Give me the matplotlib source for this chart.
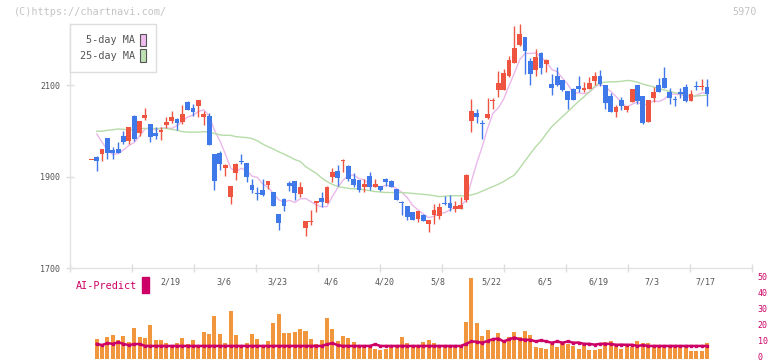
import numpy as np
import matplotlib
matplotlib.use("Agg")
import matplotlib.pyplot as plt
from matplotlib.patches import Patch, Rectangle

# ---- data ----
# first entry is the small red mark before the first traded day
opens = [1935,
         1943, 1949, 1984, 1958, 1960, 1988, 1978, 2032, 1996, 2028,
         2015, 1995, 1998, 2013, 2022, 2026, 2020, 2063, 2050, 2055,
         2029, 2032, 1949, 1952, 1919, 1856, 1908, 1932, 1929, 1881,
         1862, 1870, 1881, 1867, 1818, 1851, 1886, 1890, 1862, 1788,
         1800, 1841, 1852, 1841, 1899, 1912, 1933, 1923, 1894, 1892,
         1877, 1901, 1877, 1879, 1894, 1890, 1873, 1845, 1835, 1822,
         1807, 1816, 1796, 1816, 1814, 1841, 1842, 1829, 1829, 1849,
         2022, 2039, 2015, 2028, 2065, 2089, 2089, 2120, 2148, 2187,
         2205, 2152, 2133, 2170, 2146, 2102, 2120, 2111, 2087, 2091,
         2098, 2089, 2091, 2109, 2120, 2100, 2076, 2041, 2067, 2045,
         2063, 2100, 2076, 2019, 2072, 2100, 2115, 2085, 2068, 2085,
         2096, 2065, 2096, 2095, 2096]
highs = [1935,
         1945, 1960, 1984, 1965, 1976, 2000, 2008, 2034, 2022, 2050,
         2015, 2008, 2008, 2030, 2043, 2028, 2056, 2065, 2058, 2067,
         2043, 2039, 1949, 1956, 1928, 1879, 1930, 1949, 1930, 1894,
         1877, 1894, 1890, 1867, 1818, 1853, 1890, 1890, 1888, 1803,
         1827, 1846, 1866, 1879, 1919, 1925, 1938, 1925, 1908, 1892,
         1894, 1910, 1894, 1880, 1897, 1892, 1873, 1847, 1836, 1822,
         1825, 1818, 1805, 1840, 1842, 1857, 1860, 1846, 1855, 1905,
         2069, 2048, 2023, 2072, 2072, 2131, 2135, 2163, 2229, 2233,
         2205, 2159, 2179, 2172, 2157, 2124, 2139, 2111, 2087, 2093,
         2120, 2107, 2117, 2128, 2133, 2100, 2083, 2056, 2074, 2054,
         2091, 2100, 2076, 2067, 2096, 2115, 2139, 2093, 2076, 2093,
         2102, 2089, 2109, 2113, 2113]
lows = [1935,
        1913, 1934, 1939, 1939, 1952, 1972, 1970, 1977, 1988, 2023,
        1976, 1982, 1980, 2005, 2018, 2002, 2015, 2045, 2033, 2031,
        2013, 1969, 1870, 1914, 1901, 1840, 1892, 1927, 1889, 1865,
        1849, 1857, 1873, 1835, 1783, 1825, 1868, 1849, 1856, 1770,
        1793, 1823, 1833, 1841, 1888, 1879, 1910, 1890, 1877, 1866,
        1866, 1870, 1877, 1868, 1879, 1877, 1849, 1816, 1805, 1805,
        1800, 1803, 1779, 1796, 1807, 1838, 1825, 1822, 1829, 1844,
        1997, 2017, 1982, 2026, 2048, 2074, 2089, 2117, 2147, 2185,
        2124, 2100, 2120, 2124, 2128, 2078, 2098, 2087, 2048, 2067,
        2085, 2085, 2091, 2100, 2098, 2048, 2041, 2030, 2045, 2041,
        2063, 2058, 2015, 2019, 2063, 2085, 2093, 2058, 2054, 2072,
        2063, 2065, 2089, 2089, 2054]
closes = [1935,
          1934, 1960, 1952, 1952, 1952, 1975, 2008, 1982, 2021, 2034,
          1987, 1988, 2002, 2019, 2030, 2018, 2037, 2046, 2041, 2067,
          2037, 1969, 1891, 1928, 1926, 1879, 1927, 1931, 1900, 1870,
          1861, 1860, 1890, 1835, 1799, 1835, 1879, 1865, 1876, 1803,
          1801, 1846, 1844, 1877, 1910, 1897, 1934, 1894, 1881, 1870,
          1884, 1877, 1884, 1870, 1888, 1877, 1849, 1843, 1812, 1805,
          1825, 1803, 1805, 1827, 1833, 1839, 1831, 1835, 1838, 1903,
          2043, 2029, 2014, 2037, 2066, 2104, 2126, 2155, 2181, 2211,
          2174, 2124, 2161, 2137, 2155, 2093, 2100, 2089, 2067, 2067,
          2091, 2093, 2104, 2120, 2102, 2061, 2041, 2052, 2054, 2054,
          2091, 2065, 2017, 2067, 2085, 2085, 2093, 2072, 2067, 2080,
          2065, 2080, 2095, 2096, 2080]

ma5 = [1993, 1975, 1958, 1948, 1950, 1958, 1968, 1974, 1988, 2004,
       2006, 2002, 2006, 2006, 2005, 2011, 2021, 2030, 2034, 2042,
       2046, 2032, 2001, 1978, 1950, 1919, 1910, 1918, 1913, 1901,
       1898, 1884, 1876, 1863, 1849, 1844, 1848, 1843, 1851, 1852,
       1845, 1838, 1834, 1834, 1856, 1875, 1892, 1902, 1903, 1895,
       1893, 1881, 1879, 1877, 1881, 1879, 1874, 1865, 1854, 1837,
       1827, 1818, 1810, 1813, 1819, 1821, 1827, 1833, 1835, 1849,
       1890, 1930, 1965, 2005, 2038, 2050, 2069, 2098, 2126, 2155,
       2169, 2169, 2170, 2161, 2150, 2134, 2129, 2115, 2101, 2083,
       2083, 2081, 2084, 2095, 2102, 2096, 2086, 2075, 2062, 2052,
       2058, 2063, 2056, 2059, 2065, 2064, 2069, 2080, 2080, 2079,
       2075, 2073, 2077, 2083, 2083]
ma25 = [1999, 1999, 2001, 2002, 2004, 2003, 2002, 2003, 2005, 2005,
        2005, 2005, 2005, 2005, 2003, 2001, 1998, 1997, 1997, 1997,
        1998, 1997, 1994, 1991, 1990, 1990, 1987, 1986, 1985, 1983,
        1978, 1971, 1965, 1960, 1954, 1949, 1943, 1937, 1933, 1922,
        1914, 1907, 1897, 1889, 1883, 1878, 1876, 1874, 1873, 1873,
        1871, 1869, 1867, 1866, 1865, 1865, 1865, 1865, 1864, 1863,
        1862, 1861, 1860, 1858, 1856, 1857, 1858, 1858, 1858, 1857,
        1860, 1863, 1868, 1873, 1878, 1883, 1889, 1896, 1903, 1918,
        1934, 1950, 1965, 1978, 1994, 2009, 2020, 2031, 2042, 2053,
        2064, 2074, 2085, 2097, 2105, 2106, 2107, 2107, 2108, 2110,
        2109, 2106, 2102, 2099, 2096, 2092, 2089, 2086, 2083, 2081,
        2079, 2076, 2076, 2077, 2078]

volume = [12.2, 9.1, 13.4, 14.7, 11.6, 14.1, 10.3, 19.1, 13.4, 12.8,
          21.1, 11.6, 11.6, 9.9, 7.5, 9.9, 12.8, 9.1, 11.6, 7.5,
          16.6, 15.3, 26.6, 15.3, 9.8, 29.7, 14.7, 7.5, 9.8, 15.3,
          12.2, 7.5, 10.9, 22.2, 27.8, 15.9, 15.9, 16.6, 18.4, 17.2,
          12.2, 9.1, 11.6, 25.3, 18.4, 10.9, 14.1, 12.8, 10.3, 7.5,
          7.5, 7.5, 5.9, 5.3, 5.9, 7.5, 7.5, 13.4, 9.7, 7.5,
          7.5, 10.3, 11.6, 9.7, 7.5, 7.5, 7.5, 7.5, 7.5, 22.8,
          49.7, 22.2, 14.1, 17.8, 11.6, 15.9, 10.3, 13.4, 16.6, 13.4,
          17.2, 14.7, 7.2, 6.6, 5.9, 9.1, 7.2, 9.7, 9.1, 7.5,
          5.9, 8.4, 5.3, 5.3, 5.9, 10.3, 10.9, 7.5, 5.9, 9.1,
          7.2, 10.9, 9.7, 9.7, 7.5, 7.5, 7.5, 7.5, 7.5, 7.5,
          7.5, 4.7, 4.7, 4.7, 9.7]
ai_predict = [9.1, 8.3, 9.6, 9.1, 10.0, 9.1, 8.3, 9.0, 9.0, 7.8,
              7.8, 7.8, 7.8, 7.8, 7.8, 7.8, 7.8, 7.8, 7.8, 7.8,
              7.8, 7.8, 7.8, 7.8, 7.8, 7.8, 7.8, 7.8, 7.8, 7.8,
              7.8, 7.8, 7.8, 7.8, 7.8, 7.8, 7.8, 7.8, 7.8, 7.8,
              7.8, 7.8, 7.8, 8.8, 9.6, 8.3, 7.8, 7.8, 7.8, 7.8,
              7.8, 7.8, 8.8, 7.8, 7.8, 7.8, 7.8, 7.8, 7.8, 7.8,
              7.8, 7.8, 7.8, 7.8, 7.8, 7.8, 7.8, 7.8, 7.8, 9.1,
              10.6, 10.4, 9.8, 10.9, 12.0, 12.4, 10.6, 11.9, 13.0, 11.9,
              11.7, 11.6, 10.6, 11.3, 10.6, 9.8, 10.6, 9.8, 10.6, 9.8,
              9.9, 9.1, 9.1, 8.6, 9.1, 9.1, 9.1, 8.5, 8.6, 8.5,
              8.5, 7.8, 8.3, 7.8, 7.8, 7.8, 7.8, 7.8, 7.8, 7.8,
              7.8, 7.8, 7.8, 7.8, 7.8]

date_labels = ['2/19', '3/6', '3/23', '4/6', '4/20', '5/8',
               '5/22', '6/5', '6/19', '7/3', '7/17']
date_pos = [14, 24, 34, 44, 54, 64, 74, 84, 94, 104, 114]

# ---- styles ----
UP = '#ef5441'
DOWN = '#3f78e8'
MAGENTA = '#cc0066'
MONO = 'DejaVu Sans Mono'

o = np.array(opens, float)
h = np.array(highs, float)
l = np.array(lows, float)
c = np.array(closes, float)
xc = np.arange(-1, len(c) - 1)
xd = np.arange(len(volume))
colors = [UP if cc >= oo else DOWN for oo, cc in zip(o, c)]

W, H = 772, 361
fig = plt.figure(figsize=(W / 100, H / 100), dpi=100)
ax = fig.add_axes([70 / W, 1 - 268 / H, 682 / W, 244 / H])
ax2 = fig.add_axes([70 / W, 1 - 358.5 / H, 682 / W, 80.5 / H])

xmin, xmax = (70 - 96.7) / 5.354, (752 - 96.7) / 5.354

# candles
ax.vlines(xc, l, h, colors=colors, lw=1.0, zorder=3)
body = np.maximum(np.abs(c - o), 2.2)
ax.bar(xc, body, bottom=np.minimum(o, c), width=0.9, color=colors,
       linewidth=0, zorder=4)
ax.plot(xd, ma5, color='#eab8ea', lw=1.0, zorder=2)
ax.plot(xd, ma25, color='#b6dca8', lw=1.0, zorder=2)

ax.set_xlim(xmin, xmax)
ax.set_ylim(1700, 2100 + (85 - 24) / 0.4575)
ax.set_yticks([1700, 1900, 2100])
ax.set_yticklabels(['1700', '1900', '2100'], family=MONO, fontsize=6,
                   color='#555555')
ax.set_xticks(np.linspace(xmin, xmax, 12))
ax.set_xticklabels([])
ax.tick_params(axis='both', direction='inout', length=6, width=1,
               color='#dddddd', pad=4)
for s in ['top', 'right']:
    ax.spines[s].set_visible(False)
for s in ['left', 'bottom']:
    ax.spines[s].set_color('#e2e2e2')
    ax.spines[s].set_linewidth(1)

handles = [Patch(facecolor='#eebcee', edgecolor='#555555', lw=0.8),
           Patch(facecolor='#bfe0b2', edgecolor='#555555', lw=0.8)]
leg = ax.legend(handles, ['5-day MA', '25-day MA'], loc='upper left',
                bbox_to_anchor=(0, 1), borderaxespad=0, markerfirst=False,
                prop={'family': MONO, 'size': 7.3}, handlelength=0.6,
                handleheight=1.55, handletextpad=0.5, labelspacing=0.3,
                borderpad=0.95, fancybox=False, framealpha=1,
                edgecolor='#dddddd', labelcolor='#555555')
leg.get_frame().set_linewidth(1)

# date labels under the price panel
trans = matplotlib.transforms.blended_transform_factory(ax.transData, fig.transFigure)
for lab, p in zip(date_labels, date_pos):
    ax.text(p - 0.3, 1 - 282 / H, lab, transform=trans, ha='center',
            va='center', family=MONO, fontsize=6, color='#555555')

# volume panel
ax2.bar(xd, volume, width=0.75, color='#f2963e', linewidth=0, zorder=2)
ax2.plot(xd, ai_predict, color=MAGENTA, lw=1.8, marker='s', ms=1.8,
         zorder=3)
ax2.set_xlim(xmin, xmax)
ax2.set_ylim(0, 50)
ax2.set_yticks([0, 10, 20, 30, 40, 50])
ax2.yaxis.tick_right()
ax2.tick_params(axis='y', length=0, pad=4, labelsize=6, labelcolor=MAGENTA)
shift = matplotlib.transforms.ScaledTranslation(0, 2 / 100, fig.dpi_scale_trans)
for t in ax2.get_yticklabels():
    t.set_family(MONO)
    t.set_transform(t.get_transform() + shift)
ax2.set_xticks([])
for s in ax2.spines.values():
    s.set_visible(False)
ax2.patch.set_alpha(0)

fig.text(76 / W, 1 - 286 / H, 'AI-Predict', family=MONO, fontsize=7.3,
         color=MAGENTA, va='center', ha='left')
fig.patches.append(Rectangle((142 / W, 1 - 292.7 / H), 6.7 / W, 15.4 / H,
                             transform=fig.transFigure, color=MAGENTA))

fig.text(14 / W, 1 - 12 / H, '(C)https://chartnavi.com/', family=MONO,
         fontsize=7.3, color='#c4c4c4', va='center', ha='left')
fig.text(757 / W, 1 - 12 / H, '5970', family=MONO, fontsize=7.3,
         color='#c4c4c4', va='center', ha='right')

fig.savefig('out.png', dpi=100)
